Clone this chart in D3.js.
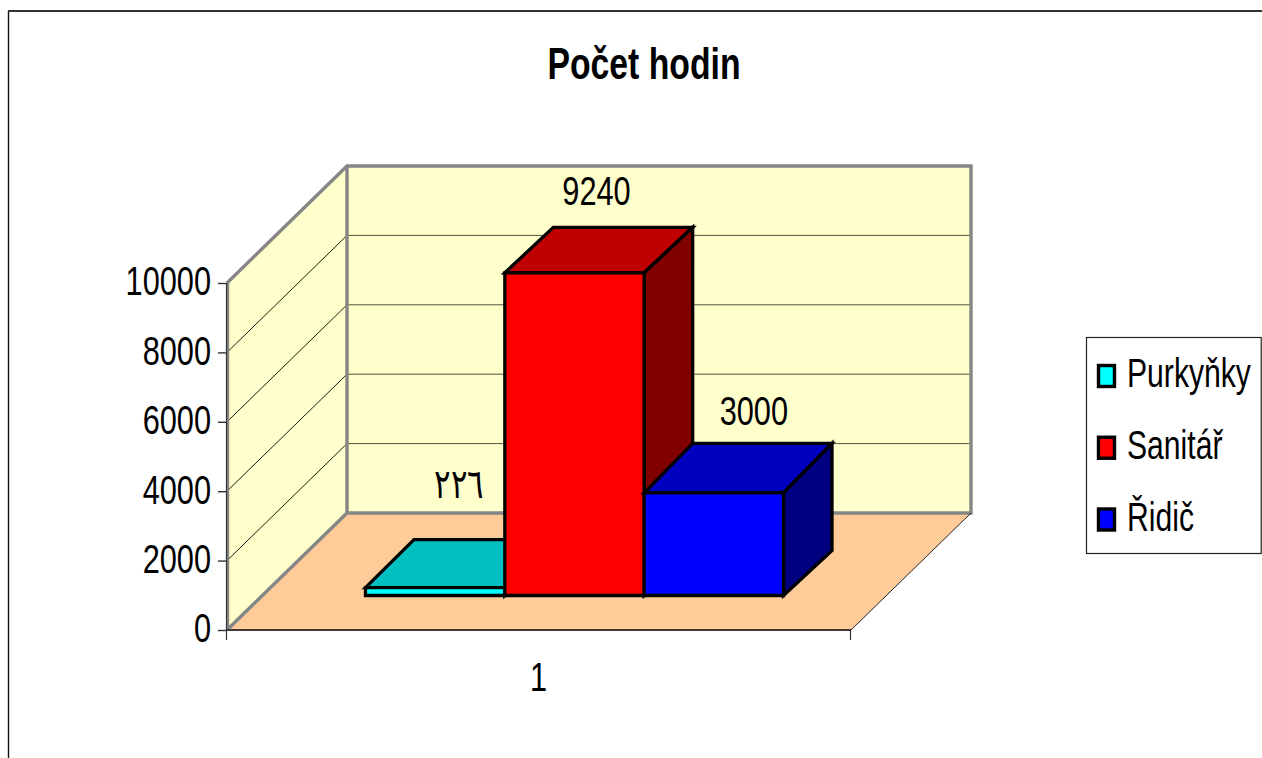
<!DOCTYPE html>
<html><head><meta charset="utf-8">
<script src="https://cdnjs.cloudflare.com/ajax/libs/d3/7.8.5/d3.min.js"></script>
<style>html,body{margin:0;padding:0;background:#fff;overflow:hidden}svg{display:block}text{font-family:"Liberation Sans",sans-serif;fill:#000}</style>
</head><body><svg id="c" width="1262" height="758"></svg>
<script>
const title = "Počet hodin";
const categories = ["1"];
const series = ["Purkyňky", "Sanitář", "Řidič"];
const barValues = [226, 9300, 2960];
const barLabels = ["٢٢٦", "9240", "3000"];
const yTicks = [0, 2000, 4000, 6000, 8000, 10000];
const colors = ["#00ffff", "#ff0000", "#0000ff"];
const topColors = ["#00c0c0", "#c00000", "#0000c0"];
const sideColors = ["#008080", "#800000", "#000080"];
// small projection quirks and hand placement of the data labels
const topRise = [48, 45.5, 49.5];
const labelDx = [23.5, 22, 40];
const labelDy = [42, 22.5, 18.5];

const svg = d3.select("#c");
const line = d3.line();
const y = d3.scaleLinear().domain([0, 10000]).range([0, 347]);
const fx0 = 227, fx1 = 851, fy = 630, dx = 120, dy = -117;
const cat = d3.scaleBand().domain(categories).range([fx0, fx1]);
const x = d3.scaleBand().domain(series).range([365.5, 783.5]);
const barDepthX = 48.5, barDepthY = 45, sx = 0.75, fs = 41;
const txt = (tx, ty, s, size, anchor, parent, sc) => (parent || svg).append("text")
  .attr("transform", `translate(${tx},${ty}) scale(${sc || sx},1)`).attr("text-anchor", anchor || "middle")
  .attr("font-size", size || fs).text(s);

// outer frame
svg.append("path").attr("d", line([[8.5, 758], [8.5, 11]])).attr("fill", "none").attr("stroke", "#111").attr("stroke-width", 1.4);
svg.append("path").attr("d", line([[8, 11], [1262, 11]])).attr("fill", "none").attr("stroke", "#333").attr("stroke-width", 2);

// walls and floor
const poly = (pts, fill) => svg.append("path").attr("d", line(pts) + "Z").attr("fill", fill);
poly([[fx0 + dx, fy + dy], [fx1 + dx, fy + dy], [fx1 + dx, fy + dy - y(10000)], [fx0 + dx, fy + dy - y(10000)]], "#ffffcc");
poly([[fx0, fy], [fx0 + dx, fy + dy], [fx0 + dx, fy + dy - y(10000)], [fx0, fy - y(10000)]], "#ffffcc");
poly([[fx0, fy], [fx1, fy], [fx1 + dx, fy + dy], [fx0 + dx, fy + dy]], "#ffcc99");

// gridlines
yTicks.slice(1, -1).forEach(t => {
  svg.append("path").attr("d", line([[fx0, fy - y(t)], [fx0 + dx, fy + dy - y(t)]])).attr("fill", "none").attr("stroke", "#000").attr("stroke-width", 0.9);
  svg.append("path").attr("d", line([[fx0 + dx, fy + dy - y(t)], [fx1 + dx, fy + dy - y(t)]])).attr("fill", "none").attr("stroke", "#55553f").attr("stroke-width", 1);
});
// gray wall outlines
const gl = pts => svg.append("path").attr("d", line(pts)).attr("fill", "none").attr("stroke", "#868686").attr("stroke-width", 3.4).attr("stroke-linejoin", "miter");
gl([[fx0, fy - y(10000)], [fx0 + dx, fy + dy - y(10000)], [fx1 + dx, fy + dy - y(10000)], [fx1 + dx, fy + dy], [fx0 + dx, fy + dy]]);
gl([[fx0 + dx, fy + dy - y(10000)], [fx0 + dx, fy + dy], [fx0, fy]]);
svg.append("path").attr("d", line([[fx1, fy], [fx1 + dx, fy + dy]])).attr("fill", "none").attr("stroke", "#222").attr("stroke-width", 1);

// axes
const ya = d3.scaleLinear().domain([0, 10000]).range([fy, fy - y(10000)]);
const gy = svg.append("g").attr("transform", `translate(${fx0},0)`).call(d3.axisLeft(ya).tickValues(yTicks).tickFormat(d3.format("d")).tickSize(9).tickSizeOuter(0));
gy.select(".domain").remove();
gy.selectAll("line").attr("stroke", "#333").attr("stroke-width", 1.4);
gy.selectAll("text").attr("font-size", fs).attr("x", 0).attr("dy", "0.35em").attr("text-anchor", "end")
  .attr("transform", `translate(-16,-2.5) scale(${sx},1)`).style("fill", "#000");
const gx = svg.append("g").attr("transform", `translate(0,${fy})`);
gx.append("path").attr("d", line([[fx0 + 1, 0], [fx0 + 1, -y(10000)]])).attr("stroke", "#868686").attr("stroke-width", 2.4);
gx.append("path").attr("d", line([[fx0 - 0.5, 0], [fx0 - 0.5, -y(10000)]])).attr("stroke", "#333").attr("stroke-width", 1.2);
gx.append("path").attr("d", line([[fx0, 0], [fx1, 0]])).attr("stroke", "#403838").attr("stroke-width", 2);
[fx0, fx1].forEach(v => gx.append("path").attr("d", line([[v - 0.5, 0], [v - 0.5, 10]])).attr("stroke", "#333").attr("stroke-width", 1.2));
txt(cat(categories[0]) + cat.bandwidth() / 2 - 0.5, 61, categories[0], fs, "middle", gx);

// bars
const base = 595.5;
const backTops = [];
series.forEach((s, i) => {
  const l = x(s), r = l + x.bandwidth(), t = base - y(barValues[i]), tb = t - topRise[i];
  backTops.push(tb);
  const g = svg.append("g").attr("stroke", "#000").attr("stroke-width", 3.3).attr("stroke-linejoin", "miter");
  const p = (pts, f) => g.append("path").attr("d", line(pts) + "Z").attr("fill", f);
  p([[l, t], [l + barDepthX, tb], [r + barDepthX, tb], [r, t]], topColors[i]);
  p([[r, t], [r + barDepthX, tb], [r + barDepthX, base - barDepthY], [r, base]], sideColors[i]);
  p([[l, t], [r, t], [r, base], [l, base]], colors[i]);
});

// data labels
series.forEach((s, i) => {
  txt(x(s) + x.bandwidth() / 2 + labelDx[i], backTops[i] - labelDy[i], barLabels[i]);
});

// title
txt(644, 78.5, title, 45).attr("font-weight", "bold");

// legend
svg.append("rect").attr("x", 1086.5).attr("y", 337.5).attr("width", 174.7).attr("height", 216).attr("fill", "#fff").attr("stroke", "#222").attr("stroke-width", 1.2);
series.forEach((s, i) => {
  const cy = 376 + i * 71.75;
  svg.append("rect").attr("x", 1098.5).attr("y", cy - 10.5).attr("width", 16).attr("height", 21).attr("fill", colors[i]).attr("stroke", "#000").attr("stroke-width", 3.4);
  txt(1127, cy + 11, s, fs, "start", null, 0.735);
});
</script></body></html>
